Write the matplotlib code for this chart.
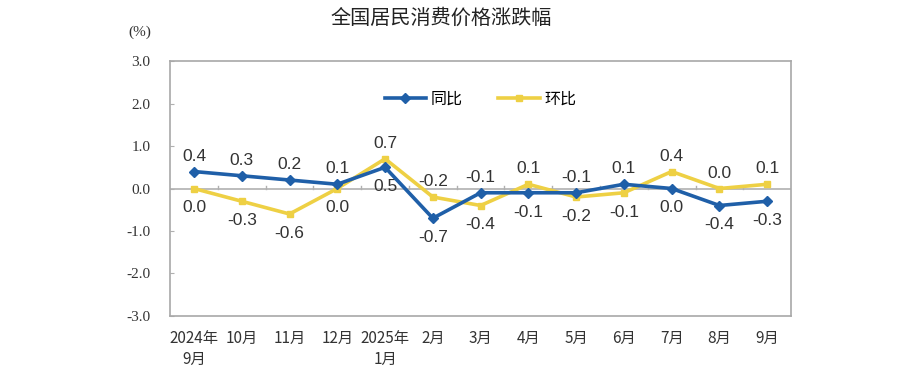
import matplotlib.pyplot as plt
import numpy as np

months = ["2024年\n9月", "10月", "11月", "12月", "2025年\n1月", "2月", "3月",
          "4月", "5月", "6月", "7月", "8月", "9月"]
yoy = [0.4, 0.3, 0.2, 0.1, 0.5, -0.7, -0.1, -0.1, -0.1, 0.1, 0.0, -0.4, -0.3]
mom = [0.0, -0.3, -0.6, 0.0, 0.7, -0.2, -0.4, 0.1, -0.2, -0.1, 0.4, 0.0, 0.1]

blue = "#1f5fa8"
yellow = "#eed044"


def main():
    plt.rcParams['font.family'] = ['Noto Sans CJK SC', 'DejaVu Sans']

    fig = plt.figure(figsize=(9, 3.82), dpi=100)
    ax = fig.add_axes([0.189, 0.173, 0.69, 0.667])

    x = np.arange(len(months))
    ax.axhline(0, color="#b0b0b0", lw=1.2, zorder=1)
    # small ticks between categories on the zero line
    for b in x[:-1] + 0.5:
        ax.plot([b, b], [0, 0.07], color="#b0b0b0", lw=1, zorder=1)

    ax.plot(x, mom, color=yellow, lw=2.6, marker="s", ms=5, label="环比", zorder=3)
    ax.plot(x, yoy, color=blue, lw=2.6, marker="D", ms=5, label="同比", zorder=4)

    for i in x:
        a, b = yoy[i], mom[i]
        up_yoy = a > b
        for v, up in ((a, up_yoy), (b, not up_yoy)):
            off = 11 if up else -14
            ax.annotate("{:.1f}".format(v), (i, v), xytext=(0, off),
                        textcoords="offset points", ha="center",
                        va="center", fontsize=12.5, color="#333333",
                        family=["Liberation Sans"])

    ax.set_xlim(-0.5, len(months) - 0.5)
    ax.set_ylim(-3.0, 3.0)
    ax.set_yticks(np.arange(-3, 3.1, 1.0))
    ax.set_yticklabels(["{:.1f}".format(v) for v in np.arange(-3, 3.1, 1.0)],
                       family=["Liberation Serif"], fontsize=11, color="#333333")
    ax.set_xticks(x)
    ax.set_xticklabels(months, fontsize=11, color="#333333", linespacing=1.35)
    ax.tick_params(axis="x", length=0, pad=10)
    ax.tick_params(axis="y", length=3, direction="in", color="#b0b0b0", pad=14)

    for s in ax.spines.values():
        s.set_color("#a8a8a8")
        s.set_linewidth(1.2)

    h, l = ax.get_legend_handles_labels()
    ax.legend(h[::-1], l[::-1], loc="center", bbox_to_anchor=(0.5, 0.85), ncol=2,
              frameon=False, fontsize=11.5, handlelength=2.6, columnspacing=2.2,
              handletextpad=0.3)

    fig.text(0.49, 0.952, "全国居民消费价格涨跌幅", ha="center", va="center",
             fontsize=14.5, color="#222222")
    fig.text(0.155, 0.915, "(%)", ha="center", va="center", fontsize=11,
             family=["Liberation Serif"], color="#333333")

    fig.savefig("out.png", dpi=100)
    plt.close()


main()
